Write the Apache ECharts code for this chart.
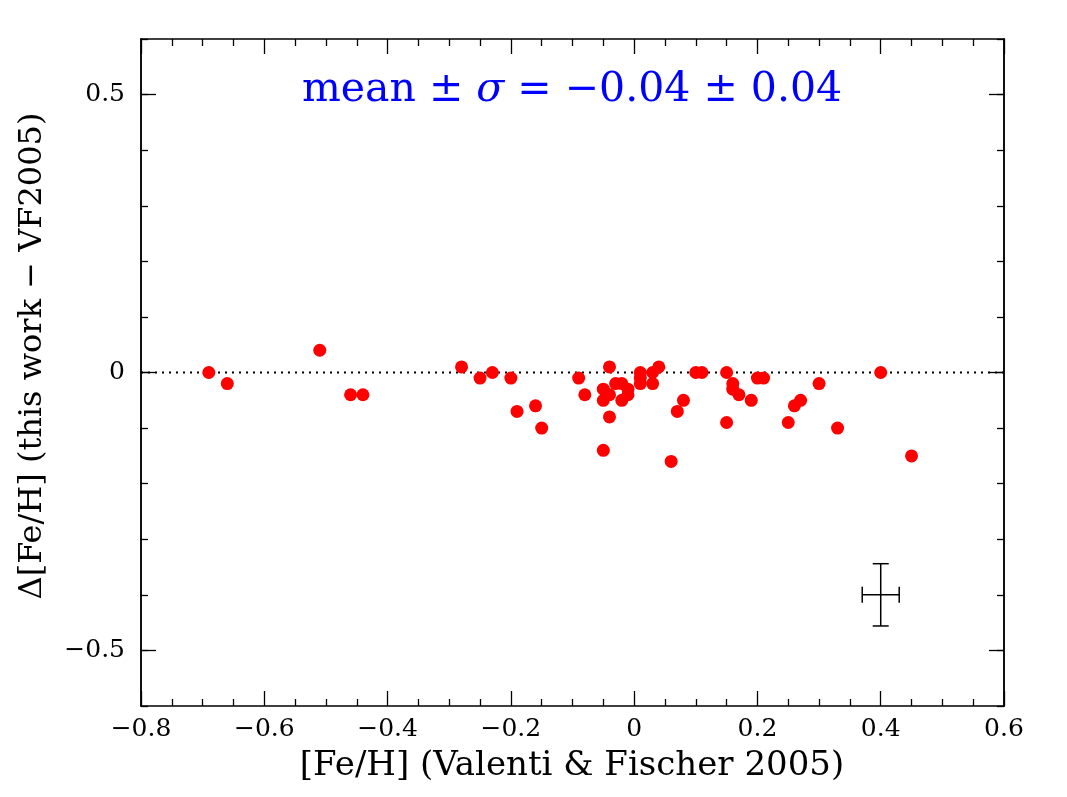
<!DOCTYPE html>
<html>
<head>
<meta charset="utf-8">
<script src="https://cdn.jsdelivr.net/npm/echarts@6/dist/echarts.min.js"></script>
<style>html,body{margin:0;padding:0;background:#fff}#c{width:1067px;height:797px}</style>
</head>
<body>
<div id="c"></div>
<script>
// Data: [Fe/H] (VF2005) and Δ[Fe/H]
const feh = [-0.69,-0.66,-0.51,-0.46,-0.44,
  -0.28,-0.25,-0.23,-0.20,-0.19,-0.16,-0.15,
  -0.09,-0.08,-0.05,-0.05,-0.05,-0.04,-0.04,-0.04,
  -0.03,-0.02,-0.02,-0.01,-0.01,
  0.01,0.01,0.01,0.03,0.03,0.04,
  0.06,0.07,0.08,0.10,0.11,
  0.15,0.15,0.16,0.16,0.17,0.19,0.20,0.21,
  0.25,0.26,0.27,0.30,0.33,0.40,0.45];
const dfeh = [0,-0.02,0.04,-0.04,-0.04,
  0.01,-0.01,0,-0.01,-0.07,-0.06,-0.10,
  -0.01,-0.04,-0.03,-0.05,-0.14,0.01,-0.04,-0.08,
  -0.02,-0.02,-0.05,-0.03,-0.04,
  0,-0.01,-0.02,0,-0.02,0.01,
  -0.16,-0.07,-0.05,0,0,
  0,-0.09,-0.02,-0.03,-0.04,-0.05,-0.01,-0.01,
  -0.09,-0.06,-0.05,-0.02,-0.10,0,-0.15];
const errCenter = [0.40, -0.40];
const errX = 0.03;
const errY = 0.056;
const zeroLine = [[-0.8, 0], [0.6, 0]];
const yMajor = [-0.5, 0, 0.5];
const titleText = ['mean ± ', 'σ', ' = −0.04 ± 0.04'];
const xTitle = '[Fe/H] (Valenti & Fischer 2005)';
const yTitle = 'Δ[Fe/H] (this work − VF2005)';

const FONT = 'DejaVu Serif';
const fmt = v => (Math.abs(v) < 1e-9 ? '0' : (Math.round(v*10)/10).toString().replace('-', '−'));

const chart = echarts.init(document.getElementById('c'));
const axLine = {show: true, onZero: false, lineStyle: {color: '#000', width: 1.5}};
const tickStyle = {color: '#000', width: 1.3};
const xBase = {type: 'value', min: -0.8, max: 0.6, interval: 0.2, splitLine: {show: false},
  axisLine: axLine,
  axisTick: {inside: true, length: 15, lineStyle: tickStyle},
  minorTick: {show: true, splitNumber: 4, length: 7, lineStyle: tickStyle},
  minorSplitLine: {show: false}};
const yBase = {type: 'value', min: -0.6, max: 0.6, interval: 0.1, splitLine: {show: false},
  axisLine: axLine,
  axisTick: {inside: true, length: 7, lineStyle: tickStyle}};
const yMajorAxis = {type: 'value', min: -0.6, max: 0.6, splitLine: {show: false},
  axisLine: axLine,
  axisTick: {inside: true, length: 15, customValues: yMajor, lineStyle: tickStyle}};

chart.setOption({
  animation: false,
  backgroundColor: '#fff',
  grid: {left: 141, right: 63, top: 39, bottom: 91},
  graphic: [{
    type: 'text', x: 572, y: 90, z: 10,
    style: {
      text: '{a|' + titleText[0] + '}{i|' + titleText[1] + '}{a|' + titleText[2] + '}',
      align: 'center', verticalAlign: 'middle',
      rich: {
        a: {fontFamily: FONT, fontSize: 41, fill: '#0000ff'},
        i: {fontFamily: FONT, fontSize: 41, fontStyle: 'italic', fill: '#0000ff'}
      }
    }
  }, {
    type: 'text', x: 33, y: 356, rotation: Math.PI / 2, z: 10,
    style: {text: yTitle, fontFamily: FONT, fontSize: 32, fill: '#000', align: 'center', verticalAlign: 'middle'}
  }, {
    type: 'text', x: 572, y: 766, z: 10,
    style: {text: xTitle, fontFamily: FONT, fontSize: 34, fill: '#000', align: 'center', verticalAlign: 'middle'}
  }],
  xAxis: [
    Object.assign({}, xBase, {position: 'bottom',
      axisLabel: {show: true, margin: 11, formatter: fmt, fontFamily: FONT, fontSize: 25, color: '#000'}}),
    Object.assign({}, xBase, {position: 'top', axisLabel: {show: false}})
  ],
  yAxis: [
    Object.assign({}, yMajorAxis, {position: 'left',
      axisLabel: {show: true, margin: 16, customValues: yMajor, formatter: fmt, fontFamily: FONT, fontSize: 25, color: '#000'}}),
    Object.assign({}, yMajorAxis, {position: 'right', axisLabel: {show: false}}),
    Object.assign({}, yBase, {position: 'left', axisLabel: {show: false}}),
    Object.assign({}, yBase, {position: 'right', axisLabel: {show: false}})
  ],
  series: [
    {type: 'line', data: zeroLine, xAxisIndex: 0, yAxisIndex: 0, symbol: 'none', silent: true,
      lineStyle: {color: '#000', width: 2, type: [2, 5]}, z: 1},
    {type: 'scatter', data: feh.map((x, i) => [x, dfeh[i]]), xAxisIndex: 0, yAxisIndex: 0,
      symbol: 'circle', symbolSize: 13, itemStyle: {color: '#ff0000', opacity: 1}, z: 3},
    {type: 'custom', xAxisIndex: 0, yAxisIndex: 0, data: [[errCenter[0], errCenter[1], errX, errY]], z: 4,
      renderItem: function (params, api) {
        const x = api.value(0), y = api.value(1), ex = api.value(2), ey = api.value(3);
        const c = api.coord([x, y]);
        const l = api.coord([x - ex, y]), r = api.coord([x + ex, y]);
        const t = api.coord([x, y + ey]), b = api.coord([x, y - ey]);
        const cap = 8;
        const st = {stroke: '#000', lineWidth: 1.5};
        return {type: 'group', children: [
          {type: 'line', shape: {x1: l[0], y1: c[1], x2: r[0], y2: c[1]}, style: st},
          {type: 'line', shape: {x1: c[0], y1: t[1], x2: c[0], y2: b[1]}, style: st},
          {type: 'line', shape: {x1: l[0], y1: c[1] - cap, x2: l[0], y2: c[1] + cap}, style: st},
          {type: 'line', shape: {x1: r[0], y1: c[1] - cap, x2: r[0], y2: c[1] + cap}, style: st},
          {type: 'line', shape: {x1: c[0] - cap, y1: t[1], x2: c[0] + cap, y2: t[1]}, style: st},
          {type: 'line', shape: {x1: c[0] - cap, y1: b[1], x2: c[0] + cap, y2: b[1]}, style: st}
        ]};
      }}
  ]
});
</script>
</body>
</html>
